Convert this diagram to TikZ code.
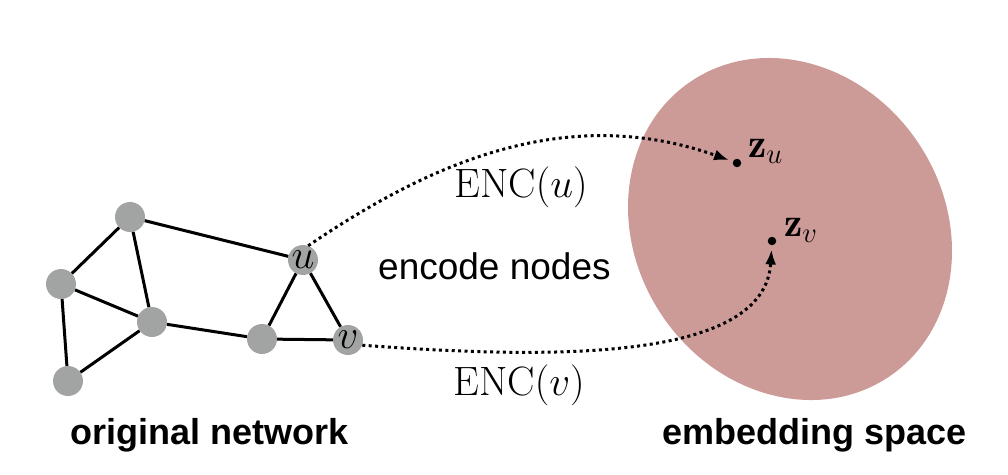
\RequirePackage{fix-cm}
\documentclass[tikz,border=0pt]{standalone}
\usepackage{fontspec}
\newfontfamily\sansf{Liberation Sans}
\usetikzlibrary{arrows.meta}
\definecolor{nodegray}{RGB}{161,164,163}
\definecolor{embcol}{RGB}{205,155,151}
\tikzset{
  vert/.style={circle, fill=nodegray, minimum size=30pt, inner sep=0pt, font=\fontsize{41}{44}\selectfont},
  edgeline/.style={line width=3pt},
  encline/.style={line width=3pt, dash pattern=on 3pt off 3.4pt, -{Latex[length=15pt,width=11pt]}},
  dotpt/.style={circle, fill=black, minimum size=8.5pt, inner sep=0pt},
  mathlab/.style={font=\fontsize{41}{44}\selectfont, inner sep=0pt},
  zlab/.style={font=\fontsize{41}{44}\selectfont, inner sep=0pt, anchor=base west},
  caption/.style={font=\sansf\bfseries\fontsize{36}{40}\selectfont, inner sep=0pt, anchor=base west}
}
\begin{document}
\begin{tikzpicture}[x=1pt,y=-1pt]
\useasboundingbox (0,0) rectangle (1008,474);
% embedding space
\fill[embcol, rotate around={-56.4:(790,229)}] (790,229) ellipse [x radius=177.8pt, y radius=154.5pt];
% graph nodes
\node[vert] (a) at (130,217) {};
\node[vert] (b) at (61,284) {};
\node[vert] (c) at (152,322) {};
\node[vert] (d) at (68,381) {};
\node[vert] (e) at (262,339) {};
\node[vert] (u) at (303,260) {$u$};
\node[vert] (v) at (348,340) {$v$};
\draw[edgeline] (a) -- (b);
\draw[edgeline] (a) -- (c);
\draw[edgeline] (a) -- (u);
\draw[edgeline] (b) -- (c);
\draw[edgeline] (b) -- (d);
\draw[edgeline] (c) -- (d);
\draw[edgeline] (c) -- (e);
\draw[edgeline] (e) -- (u);
\draw[edgeline] (e) -- (v);
\draw[edgeline] (u) -- (v);
% embedded points
\node[dotpt] (zu) at (737,163) {};
\node[dotpt] (zv) at (772,241) {};
\node[zlab] (zul) at (748,157) {$\mathbf{z}_u$};
\node[zlab] (zvl) at (784,236) {$\mathbf{z}_v$};
% encoder arrows
\draw[encline, shorten >=4pt] (u.70) .. controls (420,170) and (560,100) .. (zu);
\draw[encline, shorten >=4pt] (v.-20) .. controls (560,360) and (765,360) .. (zv);
% labels
\node[mathlab, anchor=base] (encu) at (521,197) {$\mathrm{ENC}(u)$};
\node[mathlab, anchor=base] (encv) at (519,395) {$\mathrm{ENC}(v)$};
\node[inner sep=0pt, anchor=base west, font=\sansf\fontsize{37}{40}\selectfont] (enc) at (378,279) {encode nodes};
\node[caption] (orig) at (70,444) {original network};
\node[caption] (emb) at (662,444) {embedding space};
\end{tikzpicture}
\end{document}
